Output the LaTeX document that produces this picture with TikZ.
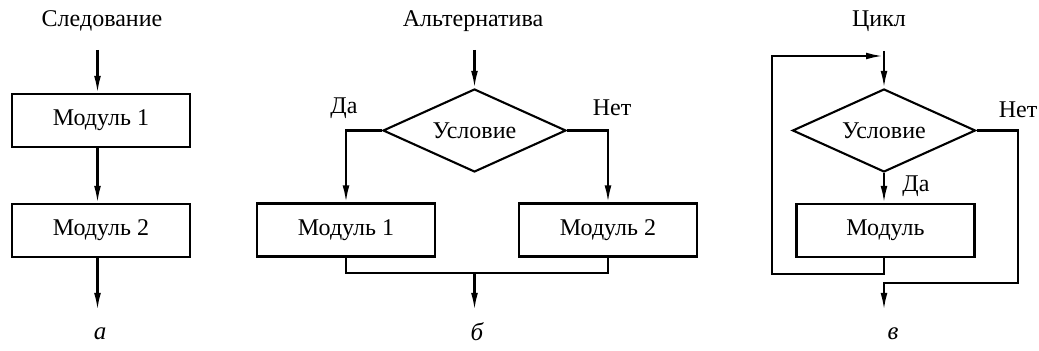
\documentclass[tikz,border=0pt]{standalone}
\usepackage{fontspec}
\setmainfont{Liberation Serif}
\usetikzlibrary{arrows.meta,shapes.geometric}
\begin{document}
\begin{tikzpicture}[x=0.5pt,y=-0.5pt,
  line width=1.05pt,
  font=\fontsize{12}{14}\selectfont,
  flow/.style={-{Latex[length=8.5pt,width=3.4pt]}},
  modbox/.style={draw,rectangle,minimum width=89pt,minimum height=26.5pt,inner sep=0pt},
  cond/.style={draw,diamond,aspect=2.2,minimum width=91.5pt,minimum height=41.5pt,inner sep=0pt},
  txt/.style={inner sep=0pt},
  sublabel/.style={inner sep=0pt,font=\fontsize{12.5}{14}\selectfont\itshape}]
\useasboundingbox (0,0) rectangle (1039,351);

% --- sequence ---
\node[txt] (ta) at (102,21) {Следование};
\node[modbox] (m1a) at (101,120.5) {Модуль 1};
\node[modbox] (m2a) at (101,230.5) {Модуль 2};
\coordinate (ina) at (97.5,50);
\coordinate (outa) at (97.5,310);
\draw[flow] (ina) -- (ina |- m1a.north);
\draw[flow] (ina |- m1a.south) -- (ina |- m2a.north);
\draw[flow] (ina |- m2a.south) -- (outa);
\node[sublabel] (ca) at (100,334) {а};

% --- alternative ---
\node[txt] (tb) at (473,21) {Альтернатива};
\node[cond] (db) at (474.5,130.5) {Условие};
\node[modbox] (m1b) at (346,230) {Модуль 1};
\node[modbox] (m2b) at (608,230) {Модуль 2};
\node[txt] (yb) at (344,108) {Да};
\node[txt] (nb) at (612,108) {Нет};
\coordinate (inb) at (474.5,50);
\coordinate (jb) at (474.5,273);
\coordinate (outb) at (474.5,310);
\draw[flow] (inb) -- (db.north);
\draw[flow] (db.west) -| (m1b.north);
\draw[flow] (db.east) -| (m2b.north);
\draw (m1b.south) |- (jb) -| (m2b.south);
\draw[flow] (jb) -- (outb);
\node[sublabel] (cb) at (477,332) {б};

% --- loop ---
\node[txt] (tc) at (879,21) {Цикл};
\node[cond] (dc) at (884,130.5) {Условие};
\node[modbox] (mc) at (885.5,230.5) {Модуль};
\node[txt] (yc) at (916,186) {Да};
\node[txt] (nc) at (1018,110) {Нет};
\coordinate (inc) at (884,51);
\coordinate (jc) at (883,56);
\coordinate (lc) at (772,56);
\coordinate (rc) at (1018,283);
\coordinate (outc) at (884,310);
\draw[flow] (inc) -- (dc.north);
\draw[flow] (dc.south) -- (dc.south |- mc.north);
\draw[flow] (dc.south |- mc.south) -- ++(0,16) -| (lc) -- (jc);
\draw[flow] (dc.east) -| (rc) -| (outc);
\node[sublabel] (cc) at (893,334) {в};
\end{tikzpicture}
\end{document}
